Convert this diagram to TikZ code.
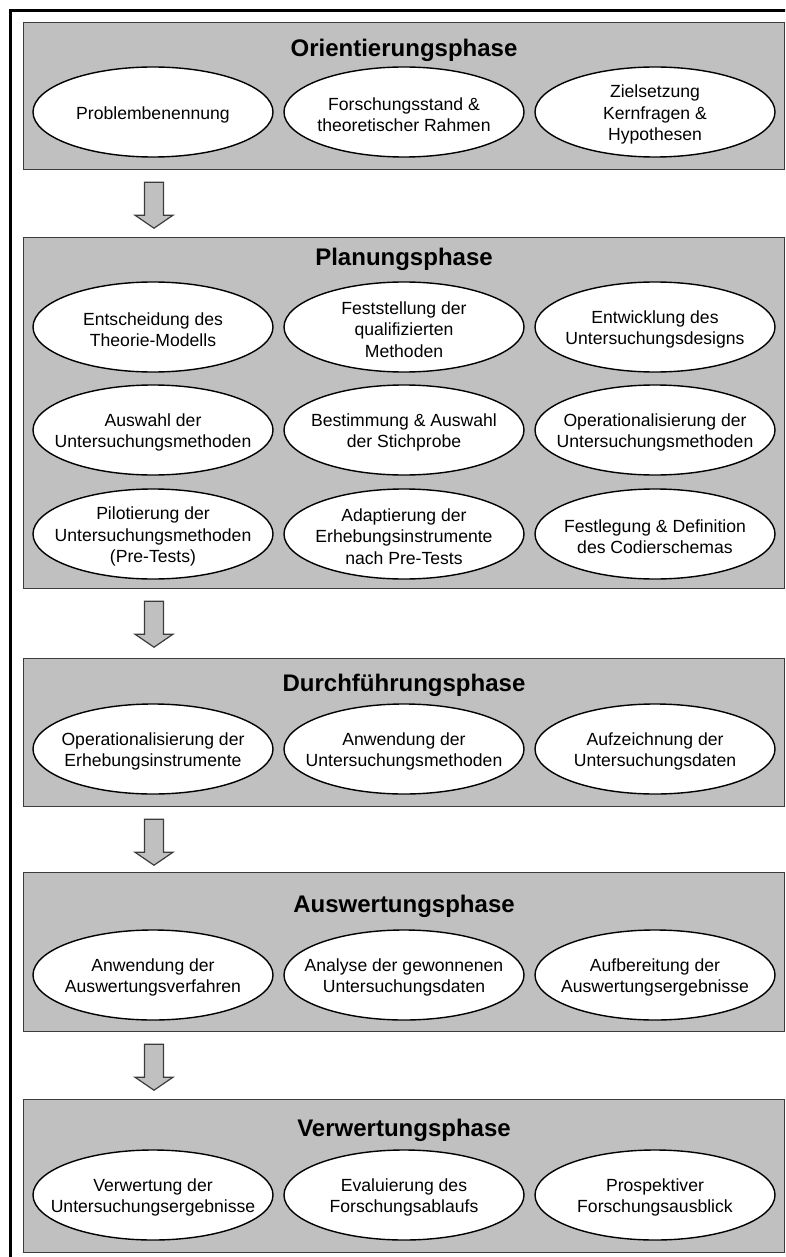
\documentclass[tikz,border=0pt]{standalone}
\usepackage{fontspec}
\setmainfont{Liberation Sans}
\usetikzlibrary{shapes.geometric,calc}
\definecolor{panel}{RGB}{192,192,192}
\definecolor{panelline}{RGB}{60,60,60}

\begin{document}
\begin{tikzpicture}[x=1pt,y=-1pt,
  phase/.style={rectangle, draw=panelline, line width=1.2pt, fill=panel,
    anchor=north west, minimum width=761pt, inner sep=0pt},
  phasetitle/.style={inner sep=0pt, font=\fontsize{24}{28}\selectfont\bfseries},
  task/.style={ellipse, draw=black, line width=1.4pt, fill=white,
    minimum width=240pt, minimum height=90pt, inner sep=0pt},
  tasktext/.style={inner sep=0pt, align=center, yshift=-2.5pt,
    font=\fontsize{17.6}{21.5}\selectfont},
  blockarrow/.style={draw=panelline, line width=1.2pt, fill=panel, line join=miter}]

\useasboundingbox (0,0) rectangle (785,1257);
\clip (0,0) rectangle (785,1257);

% outer frame
\draw[line width=3pt] (10.5,10.5) rectangle (820,1300);

% ---------- phase panels ----------
\node[phase, minimum height=147pt] (p1) at (23,22) {};
\node[phase, minimum height=351pt] (p2) at (23,237) {};
\node[phase, minimum height=148pt] (p3) at (23,658) {};
\node[phase, minimum height=159pt] (p4) at (23,872) {};
\node[phase, minimum height=153pt] (p5) at (23,1099) {};

\node[phasetitle] (h1) at (404,50) {Orientierungsphase};
\node[phasetitle] (h2) at (404,259) {Planungsphase};
\node[phasetitle] (h3) at (404,685) {Durchführungsphase};
\node[phasetitle] (h4) at (404,906) {Auswertungsphase};
\node[phasetitle] (h5) at (404,1130) {Verwertungsphase};

% ---------- Orientierungsphase ----------
\node[task] (t11) at (153,112) {};
\node[task] (t12) at (404,112) {};
\node[task] (t13) at (655,112) {};
\node[tasktext] at (t11) {Problembenennung};
\node[tasktext] at (t12) {Forschungsstand \&\\theoretischer Rahmen};
\node[tasktext] at (t13) {Zielsetzung\\Kernfragen \&\\Hypothesen};

% ---------- Planungsphase ----------
\node[task] (t21) at (153,327) {};
\node[task] (t22) at (404,327) {};
\node[task] (t23) at (655,327) {};
\node[tasktext] at (t21) {Entscheidung des\\Theorie-Modells};
\node[tasktext] at (t22) {Feststellung der\\qualifizierten\\Methoden};
\node[tasktext] at (t23) {Entwicklung des\\Untersuchungsdesigns};

\node[task] (t24) at (153,430) {};
\node[task] (t25) at (404,430) {};
\node[task] (t26) at (655,430) {};
\node[tasktext] at (t24) {Auswahl der\\Untersuchungsmethoden};
\node[tasktext] at (t25) {Bestimmung \& Auswahl\\der Stichprobe};
\node[tasktext] at (t26) {Operationalisierung der\\Untersuchungsmethoden};

\node[task] (t27) at (153,534) {};
\node[task] (t28) at (404,534) {};
\node[task] (t29) at (655,534) {};
\node[tasktext] at (t27) {Pilotierung der\\Untersuchungsmethoden\\(Pre-Tests)};
\node[tasktext] at (t28) {Adaptierung der\\Erhebungsinstrumente\\nach Pre-Tests};
\node[tasktext] at (t29) {Festlegung \& Definition\\des Codierschemas};

% ---------- Durchführungsphase ----------
\node[task] (t31) at (153,749) {};
\node[task] (t32) at (404,749) {};
\node[task] (t33) at (655,749) {};
\node[tasktext] at (t31) {Operationalisierung der\\Erhebungsinstrumente};
\node[tasktext] at (t32) {Anwendung der\\Untersuchungsmethoden};
\node[tasktext] at (t33) {Aufzeichnung der\\Untersuchungsdaten};

% ---------- Auswertungsphase ----------
\node[task] (t41) at (153,975) {};
\node[task] (t42) at (404,975) {};
\node[task] (t43) at (655,975) {};
\node[tasktext] at (t41) {Anwendung der\\Auswertungsverfahren};
\node[tasktext] at (t42) {Analyse der gewonnenen\\Untersuchungsdaten};
\node[tasktext] at (t43) {Aufbereitung der\\Auswertungsergebnisse};

% ---------- Verwertungsphase ----------
\node[task] (t51) at (153,1195) {};
\node[task] (t52) at (404,1195) {};
\node[task] (t53) at (655,1195) {};
\node[tasktext] at (t51) {Verwertung der\\Untersuchungsergebnisse};
\node[tasktext] at (t52) {Evaluierung des\\Forschungsablaufs};
\node[tasktext] at (t53) {Prospektiver\\Forschungsausblick};

% ---------- block arrows between phases ----------
\foreach \from in {1,2,3,4}{
  \coordinate (a\from) at ($(p\from.south -| t11)+(1,12)$);
  \draw[blockarrow] (a\from) ++(-9.5,0) -- ++(19,0) -- ++(0,33) -- ++(9.5,0)
    -- ++(-19,13) -- ++(-19,-13) -- ++(9.5,0) -- cycle;
}

\end{tikzpicture}
\end{document}
